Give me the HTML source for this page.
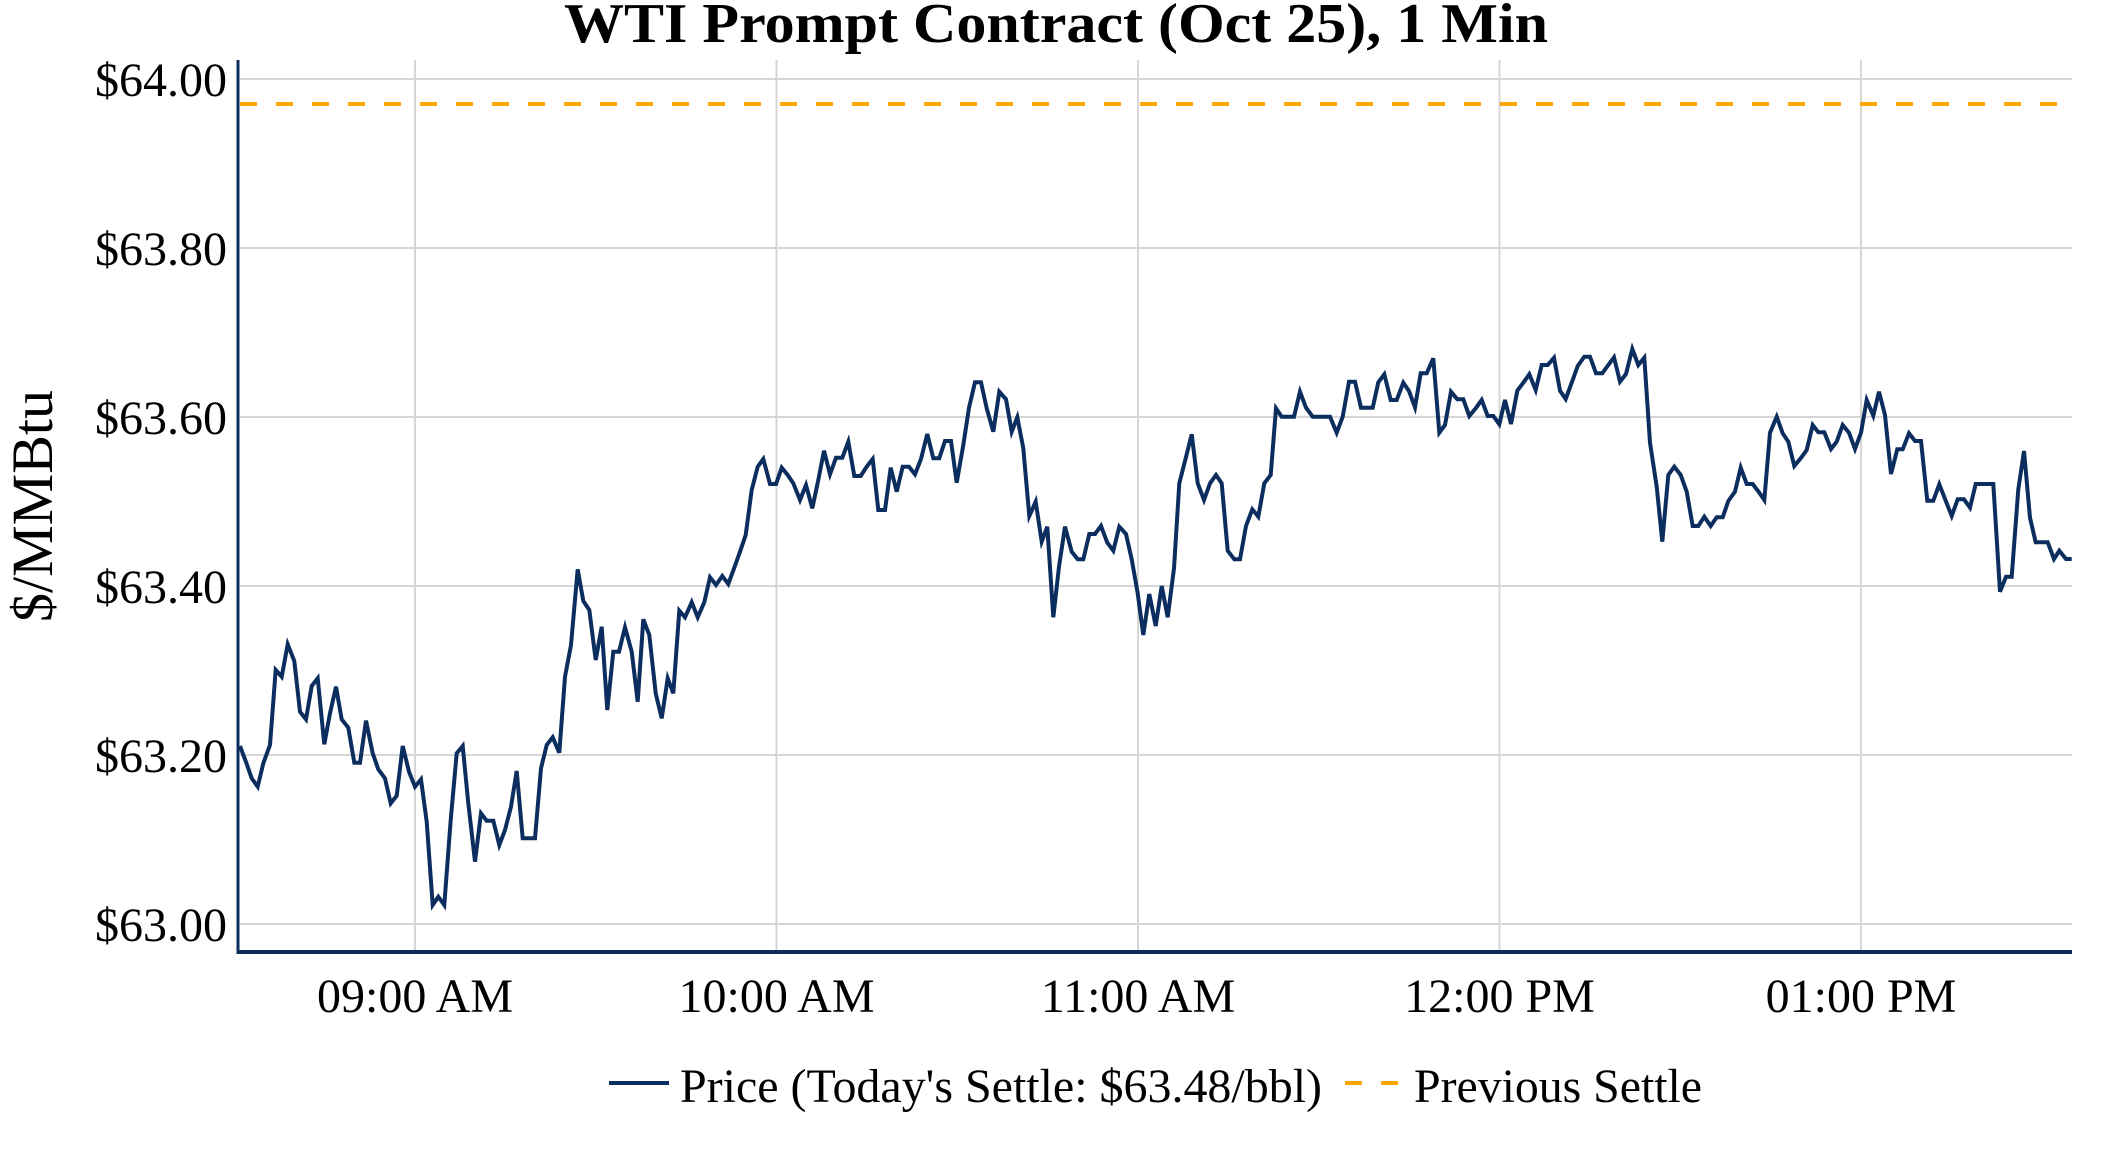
<!DOCTYPE html>
<html><head><meta charset="utf-8"><style>
html,body{margin:0;padding:0;background:#fff;}
svg{display:block;font-family:"Liberation Serif","Times New Roman",serif;}
</style></head><body>
<svg width="2112" height="1152" viewBox="0 0 2112 1152" xmlns="http://www.w3.org/2000/svg">
<rect width="2112" height="1152" fill="#fff"/>
<text x="1056" y="42" font-size="56" font-weight="bold" text-anchor="middle" textLength="984" lengthAdjust="spacingAndGlyphs">WTI Prompt Contract (Oct 25), 1 Min</text>
<g stroke="#d6d6d6" stroke-width="2">
<line x1="240" y1="79" x2="2072" y2="79"/>
<line x1="240" y1="248" x2="2072" y2="248"/>
<line x1="240" y1="417" x2="2072" y2="417"/>
<line x1="240" y1="586" x2="2072" y2="586"/>
<line x1="240" y1="755" x2="2072" y2="755"/>
<line x1="240" y1="924" x2="2072" y2="924"/>
<line x1="415" y1="60" x2="415" y2="950"/>
<line x1="776.5" y1="60" x2="776.5" y2="950"/>
<line x1="1138" y1="60" x2="1138" y2="950"/>
<line x1="1499.5" y1="60" x2="1499.5" y2="950"/>
<line x1="1861" y1="60" x2="1861" y2="950"/>
</g>
<line x1="240" y1="104" x2="2072" y2="104" stroke="#ffa500" stroke-width="4" stroke-dasharray="17,19"/>
<polyline fill="none" stroke="#0c2e5e" stroke-width="4" stroke-linejoin="miter" points="240,746 246,762 251.7,778.3 257.7,786.7 263.3,763.3 270,745 275.7,670 281.7,676.7 287.7,644.3 294.3,661 300,711.7 306,719.3 311.7,686 317.7,678.3 324.3,744.3 330,713.3 336,686.7 341.7,719.3 348.3,727.7 354.3,762.7 360,762.7 366,720.7 372.7,753.3 378.3,769.3 385,778.3 390.7,803.3 396.7,795.7 402.7,746 409,771.7 415,786.7 421,779.3 426.7,821.7 432.7,905 438.3,896.7 444.3,905 450.7,820 456.7,753.3 462.7,746 468.3,803.3 475,861.7 481,813.3 486.7,820.7 493.3,820.7 499.3,845 505,830 511,806.7 516.7,771 522.7,838.3 529.3,838.3 535,838.3 541,768.3 546.7,745 552.7,737.3 559.3,752.7 565,676.7 571,645 577.7,569.3 583.3,601 589.3,610 595.7,660 601.7,626.7 607.3,710 613.3,651.7 619,651.7 625,627.3 631.7,651.7 637.7,701.7 643.3,619.3 649.3,635 655.7,693.3 661.7,718.3 667.7,678.3 673.3,693.3 679.3,610.7 685,617.3 691.7,602.3 697.7,617.3 704.3,602.3 710,577.3 716,585 722.3,576 728.3,584 734.3,567.7 740,551.7 745.7,535 751.7,490 757.7,466.7 763.3,459 770,484 776,484 781.7,467.7 787.7,475 793.3,483.3 800,500 806,485 812.3,508.3 818.3,480 824,450.7 830,474.3 836,457.7 842.3,457.7 848.3,441.7 854.3,476 860.7,476 866.7,466.7 872.7,459 878.3,510 885,510 890.7,467.7 896.7,491.7 902.7,466.7 909,466.7 915,474.3 921,459 927.3,434 933.3,458.3 939.3,458.3 945,441 951,441 956.7,482.7 963.3,445 969,407.7 975,382.3 981,382.3 986.7,408.3 993.3,431.7 999.3,391.7 1006,399.3 1011.7,431.7 1017.3,417.3 1023.3,448.3 1029.3,516 1035.7,501.7 1041.7,541.7 1047.3,526.7 1053.3,617.3 1059,566.7 1065,526.7 1071.7,551.7 1077.7,559.3 1083.3,559.3 1089.3,534 1095,534 1101,526 1107.3,542.7 1113.3,550.7 1119.3,526.7 1126,534 1131.7,559.3 1137.7,593.3 1143.3,635 1149.3,594 1155.7,626 1161.7,586 1167.7,617.3 1174,568.3 1179.3,483.3 1185.7,458.3 1191.7,434.3 1197.7,483.3 1204,500 1210,483.3 1216,475 1221.7,483.3 1227.7,550.7 1234.3,559.3 1240,559.3 1246,526 1252.3,509.3 1258.3,516.7 1264.3,483.3 1270.7,475 1276,408.3 1281.7,416.7 1287.7,416.7 1294,416.7 1300,391.7 1306,407.7 1312.7,416.7 1318.3,416.7 1324.3,416.7 1330,416.7 1336.7,432.7 1342.7,416.7 1349,381.7 1355,381.7 1361,407.7 1366.7,407.7 1372.7,407.7 1378.3,382.3 1384.3,374.3 1390.7,400 1396.7,400 1403.3,382.7 1409,391 1415,407.3 1420.7,373.3 1426.7,373.3 1433.3,358.3 1439.3,432.7 1445,425 1451,391.7 1457.3,399.3 1463.3,399.3 1469.3,416 1475.7,408.3 1481.7,400 1487.7,416 1493.3,416 1499.3,424.3 1505,400 1511,424 1517.3,390.7 1523.3,382.7 1529.3,374.3 1535.7,390 1541.7,365 1547.7,365 1554,357.7 1560,390.7 1565.7,399 1571.7,382.7 1577.7,366 1584.3,356.7 1590,356.7 1596,373.3 1602.3,373.3 1608.3,365 1614,357.3 1620,381.7 1626,374 1632.3,349 1638.3,365 1644.3,357.7 1650,442.7 1656.7,486.7 1662.3,541.7 1668.3,475 1674.3,466.7 1680.7,475 1686.7,491.7 1692.7,526 1698.3,526 1704.3,516.7 1710.7,526 1716.7,517.3 1722.7,517.3 1728.3,501 1735,491.7 1740.7,467.7 1746.7,484 1752.7,484 1759,492.3 1764.3,500 1770,432.7 1776.7,416.7 1782.7,433.3 1788.3,441.7 1794.3,466 1800.7,458.3 1806.7,450 1812.7,425 1818.3,432.3 1824.3,432.3 1831,449 1836.7,441.7 1842.7,425 1849,432.7 1855,449 1861,432.7 1866.7,400 1873.3,415.7 1879,391.7 1885,415 1891,474 1897.3,449.3 1902.7,449.3 1909,433.3 1915,441 1921,441 1927.3,500.7 1933.3,500.7 1939.3,484.3 1945.7,500.7 1951.7,516 1957.7,499.3 1964,499.3 1970,507.7 1975.7,484 1981.7,484 1987.7,484 1993.3,484 2000,591.7 2006,576.7 2011.7,576.7 2018.3,489.3 2024,451 2030,517.7 2035.7,542.3 2041.7,542.3 2047.7,542.3 2054,559 2059.3,550.7 2066,559 2071.7,559"/>
<line x1="238" y1="60" x2="238" y2="954" stroke="#0c2e5e" stroke-width="3"/>
<line x1="237" y1="952" x2="2072" y2="952" stroke="#0c2e5e" stroke-width="4"/>
<g font-size="48" text-anchor="end" fill="#000">
<text x="227" y="96">$64.00</text>
<text x="227" y="265">$63.80</text>
<text x="227" y="434">$63.60</text>
<text x="227" y="603">$63.40</text>
<text x="227" y="772">$63.20</text>
<text x="227" y="941">$63.00</text>
</g>
<g font-size="48" text-anchor="middle" fill="#000">
<text x="415" y="1012">09:00 AM</text>
<text x="776.5" y="1012">10:00 AM</text>
<text x="1138" y="1012">11:00 AM</text>
<text x="1499.5" y="1012">12:00 PM</text>
<text x="1861" y="1012">01:00 PM</text>
</g>
<text transform="translate(52,506) rotate(-90)" font-size="58" text-anchor="middle" textLength="232" lengthAdjust="spacingAndGlyphs">$/MMBtu</text>
<line x1="609" y1="1083" x2="669" y2="1083" stroke="#0c2e5e" stroke-width="4"/>
<text x="680" y="1102" font-size="48" textLength="642" lengthAdjust="spacingAndGlyphs">Price (Today's Settle: $63.48/bbl)</text>
<line x1="1345" y1="1083" x2="1400" y2="1083" stroke="#ffa500" stroke-width="4" stroke-dasharray="17,19"/>
<text x="1414" y="1102" font-size="48" textLength="288" lengthAdjust="spacingAndGlyphs">Previous Settle</text>
</svg>
</body></html>
